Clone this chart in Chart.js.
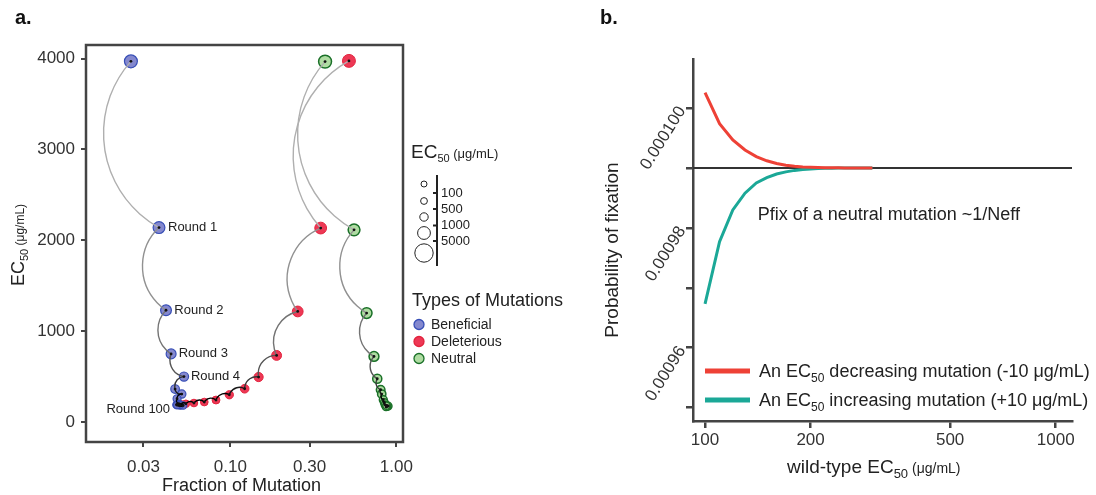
<!DOCTYPE html>
<html>
<head>
<meta charset="utf-8">
<title>EC50 trajectories and fixation probability</title>
<script src="https://cdn.jsdelivr.net/npm/chart.js@4.4.1/dist/chart.umd.min.js"></script>
<style>
  html, body { margin: 0; padding: 0; background: #fff; }
  #wrap { position: relative; width: 1096px; height: 495px; overflow: hidden; }
  #chartA { position: absolute; left: 0; top: 0; }
  #chartB { position: absolute; left: 580px; top: 0; }
</style>
</head>
<body>
<div id="wrap">
  <canvas id="chartA" width="580" height="495"></canvas>
  <canvas id="chartB" width="516" height="495"></canvas>
</div>
<script>
const FONT = "'Liberation Sans', Arial, Helvetica, sans-serif";
const INK = '#222';

// ---- panel a: trajectories, fraction of mutation vs EC50 (one point per round) ----
const beneficialFraction = [0.0252, 0.0372, 0.0410, 0.0440, 0.0526, 0.0465, 0.0510, 0.0478, 0.0489, 0.0474, 0.0500, 0.0485, 0.0520, 0.0495, 0.0478];
const beneficialEC50     = [3970, 2140, 1230, 750, 500, 363, 308, 256, 201, 190, 183, 195, 182, 188, 186];

const deleteriousFraction = [0.518, 0.350, 0.2546, 0.190, 0.148, 0.122, 0.0986, 0.082, 0.0697, 0.0604, 0.054, 0.0505, 0.0490, 0.0500];
const deleteriousEC50     = [3975, 2135, 1217, 733, 495, 366, 300, 242, 220, 209, 201, 196, 190, 186];

const neutralFraction = [0.372, 0.556, 0.662, 0.733, 0.767, 0.804, 0.816, 0.834, 0.846, 0.854, 0.874, 0.894, 0.880, 0.866, 0.872];
const neutralEC50     = [3967, 2115, 1199, 722, 476, 355, 308, 245, 215, 190, 182, 176, 170, 165, 180];

const roundLabels = ['Round 1', 'Round 2', 'Round 3', 'Round 4'];
const lastRoundLabel = 'Round 100';

const fractionTicks = [0.03, 0.1, 0.3, 1];
const fractionTickLabels = ['0.03', '0.10', '0.30', '1.00'];
const ec50Ticks = [0, 1000, 2000, 3000, 4000];

const sizeLegendLabels = ['100', '500', '1000', '5000'];
const mutationTypes = ['Beneficial', 'Deleterious', 'Neutral'];

// ---- panel b: probability of fixation vs wild-type EC50 ----
const wildTypeEC50 = [100, 110, 120, 130, 140, 150, 160, 170, 180, 190, 200, 210, 220, 230, 240, 250, 260, 270, 280, 290, 300];
const pfixDecreasing = [0.0010026, 0.0009974, 0.0009947, 0.0009930, 0.0009919, 0.0009912, 0.00099075, 0.00099047, 0.00099029, 0.00099018, 0.00099011,
                        0.00099007, 0.00099004, 0.00099003, 0.00099002, 0.00099001, 0.00099001, 0.00099, 0.00099, 0.00099, 0.00099];
const pfixIncreasing = [0.0009673, 0.0009777, 0.0009830, 0.0009858, 0.0009875, 0.0009884, 0.0009890, 0.00098935, 0.0009896, 0.00098975, 0.00098984,
                        0.0009899, 0.00098994, 0.00098996, 0.00098998, 0.00098999, 0.00099, 0.00099, 0.00099, 0.00099, 0.00099];
const neutralPfix = 0.00099;

const wildTypeTicks = [100, 200, 500, 1000];
const pfixTicks = [0.00095, 0.00096, 0.00097, 0.00098, 0.00099, 0.00100];
const pfixTickLabels = ['', '0.00096', '', '0.00098', '', '0.000100'];

const seriesNames = ['An EC', ' decreasing mutation (-10 \u03bcg/mL)', ' increasing mutation (+10 \u03bcg/mL)'];

const COLORS = {
  beneficial:  { fill: 'rgba(110,115,198,0.85)', edge: 'rgb(55,78,182)' },
  deleterious: { fill: 'rgba(234,28,62,0.88)',  edge: 'rgb(226,34,60)' },
  neutral:     { fill: 'rgba(166,216,152,0.9)', edge: 'rgb(26,112,40)' },
  decreasing: '#ee4136',
  increasing: '#1ba897'
};

function toPoints(xs, ys) {
  return xs.map((x, i) => ({ x: x, y: ys[i] }));
}

// point size grows with EC50
function ec50Radius(v) {
  return Math.max(3, 0.9 * Math.log(v) - 1.0);
}

// text made of pieces with their own size and baseline shift (for subscripts)
function drawRich(ctx, parts, x, y, align) {
  let total = 0;
  parts.forEach(p => { ctx.font = p[1] + 'px ' + FONT; total += ctx.measureText(p[0]).width; });
  let cx = align === 'center' ? x - total / 2 : (align === 'right' ? x - total : x);
  ctx.textAlign = 'left';
  ctx.textBaseline = 'alphabetic';
  parts.forEach(p => {
    ctx.font = p[1] + 'px ' + FONT;
    ctx.fillText(p[0], cx, y + (p[2] || 0));
    cx += ctx.measureText(p[0]).width;
  });
}

// circular arc from a to b, bowed to the left of the direction of travel
function arcBetween(ctx, a, b, bulge) {
  const dx = b.x - a.x, dy = b.y - a.y;
  const len = Math.hypot(dx, dy);
  if (len < 0.5) return;
  const nx = -dy / len, ny = dx / len;
  const s = bulge * len, half = len / 2;
  const R = (half * half + s * s) / (2 * s);
  const mx = (a.x + b.x) / 2, my = (a.y + b.y) / 2;
  const cx = mx - nx * (R - s), cy = my - ny * (R - s);
  const TAU = Math.PI * 2;
  const norm = t => ((t % TAU) + TAU) % TAU;
  const a0 = Math.atan2(a.y - cy, a.x - cx);
  const a1 = Math.atan2(b.y - cy, b.x - cx);
  const ab = Math.atan2(my + ny * s - cy, mx + nx * s - cx);
  const ccw = !(norm(ab - a0) < norm(a1 - a0));
  ctx.beginPath();
  ctx.arc(cx, cy, R, a0, a1, ccw);
  ctx.stroke();
}

const trajectoryPlugin = {
  id: 'trajectories',
  afterDatasetsDraw(chart) {
    const ctx = chart.ctx, xs = chart.scales.x, ys = chart.scales.y, area = chart.chartArea;
    ctx.save();
    ctx.beginPath();
    ctx.rect(area.left, area.top, area.right - area.left, area.bottom - area.top);
    ctx.clip();
    [[neutralFraction, neutralEC50], [deleteriousFraction, deleteriousEC50], [beneficialFraction, beneficialEC50]].forEach(([fx, fy]) => {
      const pts = fx.map((f, i) => ({ x: xs.getPixelForValue(f), y: ys.getPixelForValue(fy[i]) }));
      ctx.lineWidth = 1.4;
      for (let i = 0; i < pts.length - 1; i++) {
        const g = Math.max(0, 175 - 30 * i);
        ctx.strokeStyle = 'rgb(' + g + ',' + g + ',' + g + ')';
        arcBetween(ctx, pts[i], pts[i + 1], 0.24);
      }
      ctx.fillStyle = '#111';
      pts.forEach(p => { ctx.beginPath(); ctx.arc(p.x, p.y, 1.4, 0, Math.PI * 2); ctx.fill(); });
    });
    ctx.restore();
  }
};

const panelADecor = {
  id: 'panelADecor',
  afterDraw(chart) {
    const ctx = chart.ctx, area = chart.chartArea, xs = chart.scales.x, ys = chart.scales.y;
    ctx.save();
    // frame
    ctx.strokeStyle = '#444';
    ctx.lineWidth = 2.5;
    ctx.strokeRect(area.left, area.top, area.right - area.left, area.bottom - area.top);

    ctx.fillStyle = '#111';
    ctx.font = 'bold 20px ' + FONT;
    ctx.textAlign = 'left';
    ctx.textBaseline = 'alphabetic';
    ctx.fillText('a.', 15, 24);

    ctx.fillStyle = INK;
    // axis titles
    ctx.save();
    ctx.translate(24, 245);
    ctx.rotate(-Math.PI / 2);
    drawRich(ctx, [['EC', 18], ['50', 11, 4], [' (\u03bcg/mL)', 12]], 0, 0, 'center');
    ctx.restore();
    drawRich(ctx, [['Fraction of Mutation', 18]], (area.left + area.right) / 2 - 3, 491, 'center');

    // round labels on the beneficial path
    ctx.font = '13px ' + FONT;
    ctx.textBaseline = 'middle';
    ctx.textAlign = 'left';
    roundLabels.forEach((t, i) => {
      const px = xs.getPixelForValue(beneficialFraction[i + 1]);
      const py = ys.getPixelForValue(beneficialEC50[i + 1]);
      ctx.fillText(t, px + 9 - i * 0.7, py);
    });
    const last = beneficialFraction.length - 1;
    ctx.textAlign = 'right';
    ctx.fillText(lastRoundLabel, xs.getPixelForValue(beneficialFraction[last]) - 7,
                 ys.getPixelForValue(beneficialEC50[last]) + 4);

    // size legend
    drawRich(ctx, [['EC', 19], ['50', 11, 4], [' (\u03bcg/mL)', 13]], 411, 158, 'left');
    ctx.strokeStyle = INK;
    ctx.lineWidth = 1;
    [[184, 3], [201, 3.4], [217, 4.2], [233, 6.4], [253, 9.2]].forEach(([cy, r]) => {
      ctx.beginPath(); ctx.arc(424, cy, r, 0, Math.PI * 2); ctx.stroke();
    });
    ctx.lineWidth = 2;
    ctx.beginPath(); ctx.moveTo(437, 175); ctx.lineTo(437, 266); ctx.stroke();
    ctx.font = '13px ' + FONT;
    ctx.textAlign = 'left';
    ctx.textBaseline = 'middle';
    [193, 209, 225.5, 241].forEach((ty, i) => {
      ctx.beginPath(); ctx.moveTo(433, ty); ctx.lineTo(437, ty); ctx.stroke();
      ctx.fillText(sizeLegendLabels[i], 441, ty);
    });

    // mutation type legend
    drawRich(ctx, [['Types of Mutations', 18]], 412, 306, 'left');
    const keys = ['beneficial', 'deleterious', 'neutral'];
    ctx.font = '14px ' + FONT;
    ctx.textBaseline = 'middle';
    [324.5, 341.5, 358.5].forEach((cy, i) => {
      const c = COLORS[keys[i]];
      ctx.beginPath(); ctx.arc(419, cy, 5, 0, Math.PI * 2);
      ctx.fillStyle = c.fill; ctx.fill();
      ctx.strokeStyle = c.edge; ctx.lineWidth = 1.3; ctx.stroke();
      ctx.fillStyle = INK;
      ctx.fillText(mutationTypes[i], 431, cy + 0.5);
    });
    ctx.restore();
  }
};

function pointDataset(label, fx, fy, c, edgeWidth) {
  return {
    label: label,
    data: toPoints(fx, fy),
    backgroundColor: c.fill,
    borderColor: c.edge,
    borderWidth: edgeWidth,
    pointRadius: ctx => (ctx.raw ? ec50Radius(ctx.raw.y) : 3),
    showLine: false
  };
}

const tickFont = { family: FONT, size: 17 };

new Chart(document.getElementById('chartA'), {
  type: 'scatter',
  data: {
    datasets: [
      pointDataset('Beneficial', beneficialFraction, beneficialEC50, COLORS.beneficial, 1.2),
      pointDataset('Deleterious', deleteriousFraction, deleteriousEC50, COLORS.deleterious, 1),
      pointDataset('Neutral', neutralFraction, neutralEC50, COLORS.neutral, 1.5)
    ]
  },
  options: {
    responsive: false,
    animation: false,
    events: [],
    layout: { padding: { left: 0, right: 177, top: 45, bottom: 0 } },
    plugins: { legend: { display: false }, tooltip: { enabled: false } },
    scales: {
      x: {
        type: 'logarithmic',
        min: 0.01352,
        max: 1.096,
        afterBuildTicks: s => { s.ticks = fractionTicks.map(v => ({ value: v })); },
        afterFit: s => { s.height = 53; },
        ticks: { callback: (v, i) => fractionTickLabels[i], font: tickFont, color: '#333', padding: 10, maxRotation: 0, autoSkip: false },
        grid: { drawOnChartArea: false, tickLength: 5, color: '#444', lineWidth: 2 },
        border: { display: false }
      },
      y: {
        type: 'linear',
        min: -220,
        max: 4150,
        afterBuildTicks: s => { s.ticks = ec50Ticks.map(v => ({ value: v })); },
        afterFit: s => { s.width = 86; },
        ticks: { callback: v => String(v), font: tickFont, color: '#333', padding: 6, autoSkip: false },
        grid: { drawOnChartArea: false, tickLength: 5, color: '#444', lineWidth: 2 },
        border: { display: false }
      }
    }
  },
  plugins: [trajectoryPlugin, panelADecor]
});

const panelBDecor = {
  id: 'panelBDecor',
  beforeDatasetsDraw(chart) {
    const ctx = chart.ctx, area = chart.chartArea;
    const y = chart.scales.y.getPixelForValue(neutralPfix);
    ctx.save();
    ctx.strokeStyle = '#333';
    ctx.lineWidth = 2;
    ctx.beginPath(); ctx.moveTo(area.left, y); ctx.lineTo(area.right, y); ctx.stroke();
    ctx.restore();
  },
  afterDraw(chart) {
    const ctx = chart.ctx, xs = chart.scales.x, ys = chart.scales.y;
    ctx.save();
    ctx.fillStyle = '#111';
    ctx.font = 'bold 20px ' + FONT;
    ctx.textAlign = 'left';
    ctx.textBaseline = 'alphabetic';
    ctx.fillText('b.', 20, 24);

    ctx.fillStyle = INK;
    ctx.save();
    ctx.translate(38, 250);
    ctx.rotate(-Math.PI / 2);
    drawRich(ctx, [['Probability of fixation', 19]], 0, 0, 'center');
    ctx.restore();
    drawRich(ctx, [['wild-type EC', 19], ['50', 13, 5], [' (\u03bcg/mL)', 14]], 207, 473, 'left');

    // neutral reference note
    ctx.font = '18px ' + FONT;
    ctx.textAlign = 'left';
    ctx.textBaseline = 'middle';
    ctx.fillText('Pfix of a neutral mutation ~1/Neff', xs.getPixelForValue(141.3), ys.getPixelForValue(0.0009822));

    // legend
    [[COLORS.decreasing, seriesNames[1], 371, 377], [COLORS.increasing, seriesNames[2], 400, 406]].forEach(([col, name, ly, base]) => {
      ctx.strokeStyle = col;
      ctx.lineWidth = 5;
      ctx.beginPath(); ctx.moveTo(125, ly); ctx.lineTo(170, ly); ctx.stroke();
      ctx.fillStyle = INK;
      drawRich(ctx, [[seriesNames[0], 18], ['50', 12, 5], [name, 18]], 179, base, 'left');
    });
    ctx.restore();
  }
};

const axisLine = { display: true, color: '#444', width: 2.5 };

new Chart(document.getElementById('chartB'), {
  type: 'scatter',
  data: {
    datasets: [
      { label: seriesNames[0] + '50' + seriesNames[1], data: toPoints(wildTypeEC50, pfixDecreasing), showLine: true,
        borderColor: COLORS.decreasing, borderWidth: 3, pointRadius: 0, tension: 0 },
      { label: seriesNames[0] + '50' + seriesNames[2], data: toPoints(wildTypeEC50, pfixIncreasing), showLine: true,
        borderColor: COLORS.increasing, borderWidth: 3, pointRadius: 0, tension: 0 }
    ]
  },
  options: {
    responsive: false,
    animation: false,
    events: [],
    layout: { padding: { left: 0, right: 24, top: 59, bottom: 0 } },
    plugins: { legend: { display: false }, tooltip: { enabled: false } },
    scales: {
      x: {
        type: 'logarithmic',
        min: 92.4,
        max: 1113,
        afterBuildTicks: s => { s.ticks = wildTypeTicks.map(v => ({ value: v })); },
        afterFit: s => { s.height = 74; },
        ticks: { callback: (v, i) => String(wildTypeTicks[i]), font: tickFont, color: '#333', padding: 2, maxRotation: 0, autoSkip: false },
        grid: { drawOnChartArea: false, tickLength: 7, color: '#444', lineWidth: 2.5 },
        border: axisLine
      },
      y: {
        type: 'linear',
        min: 0.00094775,
        max: 0.0010082,
        afterBuildTicks: s => { s.ticks = pfixTicks.map(v => ({ value: v })); },
        afterFit: s => { s.width = 113; },
        ticks: { callback: (v, i) => pfixTickLabels[i], font: tickFont, color: '#333', padding: 4, minRotation: 58, maxRotation: 58, autoSkip: false },
        grid: { drawOnChartArea: false, tickLength: 7, color: '#444', lineWidth: 2.5 },
        border: axisLine
      }
    }
  },
  plugins: [panelBDecor]
});
</script>
</body>
</html>
